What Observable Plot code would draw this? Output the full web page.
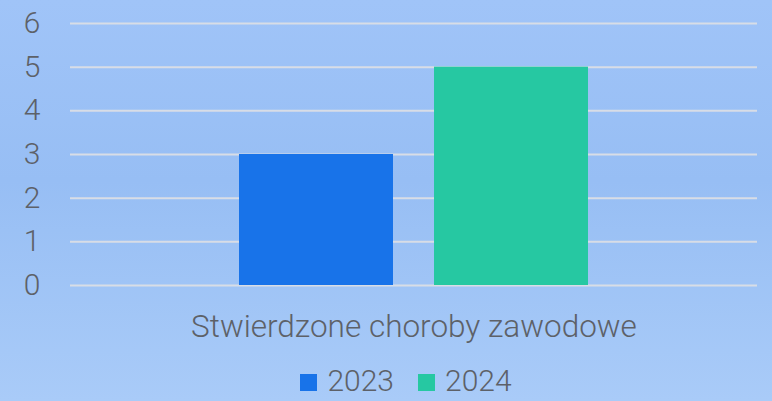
<!DOCTYPE html>
<html>
<head>
<meta charset="utf-8">
<script src="https://cdn.jsdelivr.net/npm/d3@7"></script>
<script src="https://cdn.jsdelivr.net/npm/@observablehq/plot@0.6"></script>
<style>
  html, body { margin: 0; padding: 0; }
  body { width: 772px; height: 401px; overflow: hidden;
    background: linear-gradient(to bottom, #a0c4f8 0%, #97bef4 45%, #a9cbf8 100%);
    font-family: Roboto, sans-serif; font-weight: 300; color: #5d6168; }
  #legend { display: flex; justify-content: center; align-items: center; gap: 24px; height: 40px; padding-top: 6px; padding-left: 40px; font-size: 30px; line-height: 1; }
  .item { display: flex; align-items: center; gap: 10px; }
  .sw { width: 17px; height: 17px; display: inline-block; position: relative; top: 1px; }
</style>
</head>
<body>
<div id="chart"></div>
<div id="legend"></div>
<script>
const categories = ["Stwierdzone choroby zawodowe"];
const years = ["2023", "2024"];
const values2023 = [3];
const values2024 = [5];
const colors = ["#1873e9", "#26c8a2"];
const yTicks = [0, 1, 2, 3, 4, 5, 6];

const data = [];
categories.forEach((c, i) => {
  data.push({category: c, year: years[0], value: values2023[i]});
  data.push({category: c, year: years[1], value: values2024[i]});
});

const chart = Plot.plot({
  width: 772,
  height: 355,
  marginLeft: 70,
  marginRight: 15,
  marginTop: 23,
  marginBottom: 70,
  style: {background: "transparent", fontFamily: "Roboto, sans-serif", fontWeight: 300, fontSize: "28px", color: "#5d6168", overflow: "visible"},
  fx: {domain: categories, padding: 0, label: null},
  x: {domain: years, paddingInner: 0.21, paddingOuter: 0.86, axis: null},
  y: {domain: [0, 6], ticks: yTicks, label: null},
  color: {domain: years, range: colors},
  marks: [
    Plot.ruleY(yTicks, {stroke: "#d8dde6", strokeWidth: 2}),
    Plot.barY(data, {fx: "category", x: "year", y: "value", fill: "year"}),
    Plot.axisY({ticks: yTicks, tickSize: 0, tickPadding: 30, fontSize: 30, label: null, tickFormat: d => d}),
    Plot.axisFx({anchor: "bottom", tickSize: 0, tickPadding: 29, fontSize: 31.5, label: null})
  ]
});
document.getElementById("chart").appendChild(chart);

const legend = document.getElementById("legend");
years.forEach((y, i) => {
  const item = document.createElement("div");
  item.className = "item";
  const sw = document.createElement("span");
  sw.className = "sw";
  sw.style.background = colors[i];
  const t = document.createElement("span");
  t.textContent = y;
  item.appendChild(sw);
  item.appendChild(t);
  legend.appendChild(item);
});
</script>
</body>
</html>
